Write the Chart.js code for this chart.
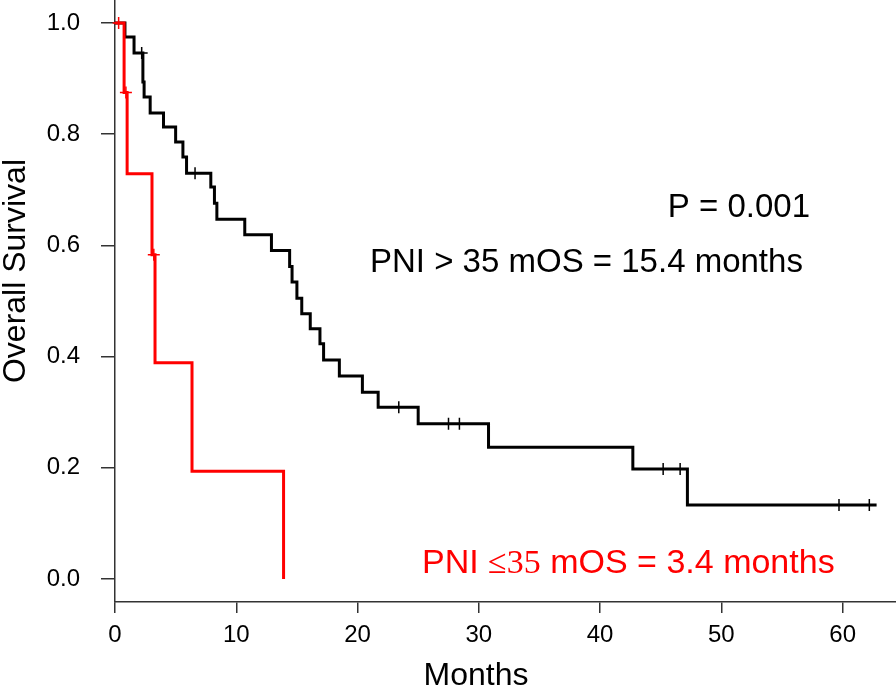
<!DOCTYPE html>
<html>
<head>
<meta charset="utf-8">
<script src="https://cdn.jsdelivr.net/npm/chart.js@4/dist/chart.umd.min.js"></script>
<style>
  body { margin: 0; background: #fff; }
  canvas { display: block; }
</style>
</head>
<body>
<canvas id="km" width="896" height="689"></canvas>
<script>
var tickMonths = [0, 10, 20, 30, 40, 50, 60];
var tickSurvival = [0, 0.2, 0.4, 0.6, 0.8, 1.0];

// PNI > 35 (black)
var highTimes = [0, 0.82, 1.57, 2.3, 2.4, 2.9, 4.0, 5.0, 5.6, 5.9, 7.9, 8.2, 8.4, 10.7, 12.9, 14.4, 14.6, 15.0, 15.4, 16.1, 16.9, 17.2, 18.5, 20.4, 21.7, 25.0, 30.8, 42.7, 47.2, 62.8];
var highSurvival = [1.0, 0.975, 0.946, 0.894, 0.867, 0.838, 0.813, 0.786, 0.759, 0.730, 0.705, 0.676, 0.647, 0.619, 0.591, 0.562, 0.534, 0.505, 0.477, 0.450, 0.423, 0.394, 0.365, 0.336, 0.309, 0.279, 0.237, 0.198, 0.133, 0.133];
var highCensorTimes = [2.2, 6.6, 23.4, 27.5, 28.4, 45.2, 46.6, 59.7, 62.2];
var highCensorSurvival = [0.946, 0.730, 0.309, 0.279, 0.279, 0.198, 0.198, 0.133, 0.133];

// PNI <= 35 (red)
var lowTimes = [0, 0.75, 1.0, 3.05, 3.3, 6.35, 13.9];
var lowSurvival = [1.0, 0.875, 0.729, 0.583, 0.389, 0.194, 0];
var lowCensorTimes = [0.3, 0.9, 3.2];
var lowCensorSurvival = [1.0, 0.875, 0.583];

var sans = "'Liberation Sans', Arial, sans-serif";

function toPoints(xs, ys) {
    var pts = [];
    for (var i = 0; i < xs.length; i++) {
        pts.push({ x: xs[i], y: ys[i] });
    }
    return pts;
}

function curve(xs, ys, color) {
    return {
        data: toPoints(xs, ys),
        borderColor: color,
        borderWidth: 3,
        stepped: true,
        pointRadius: 0,
        fill: false,
        clip: false
    };
}

function censors(xs, ys, color) {
    return {
        data: toPoints(xs, ys),
        showLine: false,
        pointStyle: "cross",
        pointRadius: 6,
        borderColor: color,
        pointBorderWidth: 1.5,
        clip: false
    };
}

// axis titles and annotations
var textPlugin = {
    id: "texts",
    afterDraw: function (chart) {
        var ctx = chart.ctx;
        ctx.save();
        ctx.fillStyle = "#000";
        ctx.textBaseline = "alphabetic";

        ctx.font = "32px " + sans;
        ctx.textAlign = "center";
        ctx.fillText("Months", 476, 685);

        ctx.save();
        ctx.translate(25, 271);
        ctx.rotate(-Math.PI / 2);
        ctx.fillText("Overall Survival", 0, 0);
        ctx.restore();

        ctx.font = "33px " + sans;
        ctx.textAlign = "right";
        ctx.fillText("P = 0.001", 810, 217);
        ctx.textAlign = "left";
        ctx.fillText("PNI > 35 mOS = 15.4 months", 370, 272);

        // red label, the "≤35" part is set in a serif face
        ctx.fillStyle = "#ff0000";
        var x = 422;
        var parts = [
            ["PNI ", "34px " + sans],
            ["\u226435", "34px 'Liberation Serif', 'Times New Roman', serif"],
            [" mOS = 3.4 months", "34px " + sans]
        ];
        for (var i = 0; i < parts.length; i++) {
            ctx.font = parts[i][1];
            ctx.fillText(parts[i][0], x, 573);
            x += ctx.measureText(parts[i][0]).width;
        }
        ctx.restore();
    }
};

var ctx = document.getElementById("km").getContext("2d");
new Chart(ctx, {
    type: "line",
    data: {
        datasets: [
            censors(lowCensorTimes, lowCensorSurvival, "#ff0000"),
            curve(lowTimes, lowSurvival, "#ff0000"),
            censors(highCensorTimes, highCensorSurvival, "#000"),
            curve(highTimes, highSurvival, "#000")
        ]
    },
    options: {
        responsive: false,
        animation: false,
        layout: { padding: 0, autoPadding: false },
        plugins: {
            legend: { display: false },
            tooltip: { enabled: false }
        },
        scales: {
            x: {
                type: "linear",
                min: 0,
                max: 64.4,
                afterFit: function (s) {
                    s.height = 87;
                    s.paddingLeft = 0;
                    s.paddingRight = 0;
                },
                afterBuildTicks: function (s) {
                    s.ticks = tickMonths.map(function (v) { return { value: v }; });
                },
                grid: { drawOnChartArea: false, tickLength: 11, color: "#333", lineWidth: 1.5 },
                border: { color: "#333", width: 1.5 },
                ticks: { color: "#000", font: { family: sans, size: 24 }, padding: 8, maxRotation: 0 }
            },
            y: {
                type: "linear",
                min: -0.0414,
                max: 1.0414,
                afterFit: function (s) {
                    s.width = 115;
                    s.paddingTop = 0;
                    s.paddingBottom = 0;
                },
                afterBuildTicks: function (s) {
                    s.ticks = tickSurvival.map(function (v) { return { value: v }; });
                },
                grid: { drawOnChartArea: false, tickLength: 14, color: "#333", lineWidth: 1.5 },
                border: { color: "#333", width: 1.5 },
                ticks: {
                    color: "#000",
                    font: { family: sans, size: 24 },
                    padding: 21,
                    callback: function (v) { return v.toFixed(1); }
                }
            }
        }
    },
    plugins: [textPlugin]
});
</script>
</body>
</html>
